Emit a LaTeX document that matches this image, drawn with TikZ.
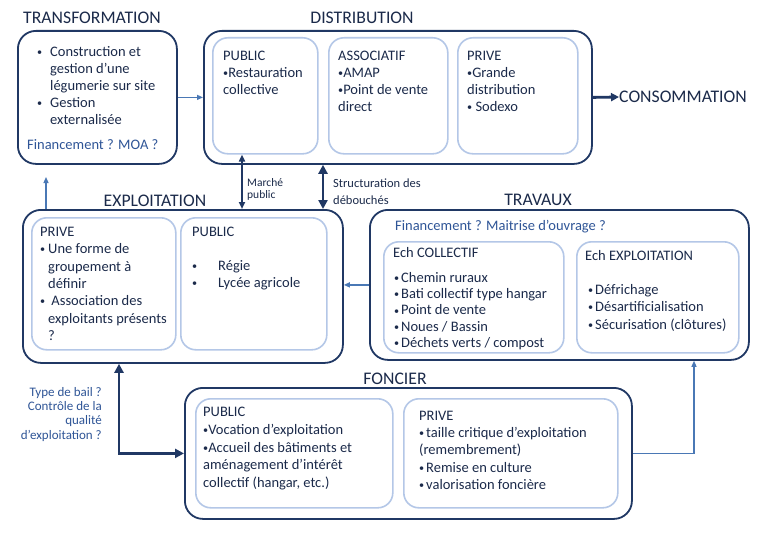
\documentclass[tikz,border=0pt]{standalone}
\usepackage{fontspec}
\setmainfont{Carlito}
\usepackage{graphicx}
\usepackage{tikz}
\usetikzlibrary{arrows.meta}

\definecolor{navy}{HTML}{203864}
\definecolor{textnavy}{HTML}{1B2A4A}
\definecolor{midblue}{HTML}{2F5597}
\definecolor{lightblue}{HTML}{B4C7E7}
\definecolor{arrowblue}{HTML}{4A78B5}

\newcommand{\bu}{\raisebox{0.12ex}{\scalebox{0.7}{\textbullet}}}
\newcommand{\bulit}[1][8pt]{\makebox[#1][l]{\bu}}
\newcommand{\bulgap}[1][8pt]{\hspace*{#1}}

\begin{document}
\begin{tikzpicture}[x=1pt, y=-1pt,
        outerbox/.style = {draw=navy, line width=1.8pt, rounded corners=18pt, anchor=north west, inner sep=0pt},
        innerbox/.style = {draw=lightblue, line width=1.6pt, rounded corners=15pt, anchor=north west, inner sep=0pt},
        heading/.style = {font=\fontsize{17.7}{20}\selectfont, text=textnavy, inner sep=0pt},
        body/.style = {font=\fontsize{14.5}{17}\selectfont, text=textnavy, align=left, anchor=north west, inner sep=0pt},
        note/.style = {font=\fontsize{14.5}{17}\selectfont, text=midblue, anchor=west, inner sep=0pt},
        linkarrow/.style = {draw=arrowblue, line width=1.2pt, -{Triangle[length=6pt, width=5pt]}},
        flowarrow/.style = {draw=navy, line width=2.8pt, -{Triangle[length=8pt, width=8pt]}},
        pairarrow/.style = {draw=navy, line width=1.8pt, {Triangle[length=7pt, width=6pt]}-{Triangle[length=7pt, width=6pt]}},
        boldarrow/.style = {draw=navy, line width=2.8pt, {Triangle[length=9pt, width=9pt]}-{Triangle[length=9pt, width=9pt]}}]
        \path[fill=white] (0,0) rectangle (768,535);
        \useasboundingbox (0,0) rectangle (768,535);

        % transformation
        \node[heading] (ttitle) at (92,18) {TRANSFORMATION};
        \node[outerbox, minimum width=159pt, minimum height=133pt] (transf) at (17,30) {};
        \node[body] (tlist) at (37,46) {\bulit[13pt]Construction et\\ \bulgap[13pt]gestion d’une\\ \bulgap[13pt]légumerie sur site\\ \bulit[13pt]Gestion\\ \bulgap[13pt]externalisée};
        \node[note] (tfin) at (27,145) {Financement ? MOA ?};

        % distribution
        \node[heading] (dtitle) at (362,18) {DISTRIBUTION};
        \node[outerbox, minimum width=388pt, minimum height=133pt] (distr) at (203,30) {};
        \node[innerbox, minimum width=105pt, minimum height=116pt] (dpub) at (212,37) {};
        \node[innerbox, minimum width=119pt, minimum height=116pt] (dasso) at (328,37) {};
        \node[innerbox, minimum width=120pt, minimum height=116pt] (dpriv) at (457,37) {};
        \node[body] (dpubtxt) at (223,51) {PUBLIC\\\bu Restauration\\collective};
        \node[body] (dassotxt) at (338,51) {ASSOCIATIF\\\bu AMAP\\\bu Point de vente\\direct};
        \node[body] (dprivtxt) at (467,51) {PRIVE\\\bu Grande\\distribution\\\bu\ Sodexo};
        \node[heading, anchor=west] (cons) at (619,97) {CONSOMMATION};

        % exploitation
        \node[heading] (etitle) at (155,201) {EXPLOITATION};
        \node[outerbox, minimum width=320pt, minimum height=153pt] (expl) at (22,209) {};
        \node[innerbox, minimum width=144pt, minimum height=132pt] (epriv) at (31,217) {};
        \node[innerbox, minimum width=146pt, minimum height=132pt] (epub) at (180,217) {};
        \node[body, font=\fontsize{14.5}{17.3}\selectfont] (eprivtxt) at (40,227) {PRIVE\\ \bulit Une forme de\\ \bulgap groupement à\\ \bulgap définir\\ \bulit\ Association des\\ \bulgap exploitants présents\\ \bulgap ?};
        \node[body] (epubtxt) at (192,227) {PUBLIC\\[17pt] \bulit[26pt]Régie\\ \bulit[26pt]Lycée agricole};

        % travaux
        \node[heading] (vtitle) at (538,200) {TRAVAUX};
        \node[outerbox, minimum width=379pt, minimum height=150pt] (trav) at (369,209) {};
        \node[note] (vfin) at (395,227) {Financement ? Maitrise d’ouvrage ?};
        \node[innerbox, minimum width=180pt, minimum height=111pt] (vcoll) at (383,241) {};
        \node[innerbox, minimum width=162pt, minimum height=111pt] (vexpl) at (576,241) {};
        \node[body] (vcolltitle) at (393,247) {Ech COLLECTIF};
        \node[body, font=\fontsize{14.5}{16.3}\selectfont] (vcolltxt) at (394,272) {\bulit[7pt]Chemin ruraux\\ \bulit[7pt]Bati collectif type hangar\\ \bulit[7pt]Point de vente\\ \bulit[7pt]Noues / Bassin\\ \bulit[7pt]Déchets verts / compost};
        \node[body] (vexpltitle) at (585,250) {Ech EXPLOITATION};
        \node[body, font=\fontsize{14.5}{17.5}\selectfont] (vexpltxt) at (588,284) {\bulit[7pt]Défrichage\\ \bulit[7pt]Désartificialisation\\ \bulit[7pt]Sécurisation (clôtures)};

        % foncier
        \node[heading] (ftitle) at (395,379) {FONCIER};
        \node[outerbox, minimum width=447pt, minimum height=131pt] (fonc) at (184,387) {};
        \node[innerbox, minimum width=197pt, minimum height=109pt] (fpub) at (195,398) {};
        \node[innerbox, minimum width=214pt, minimum height=109pt] (fpriv) at (403,398) {};
        \node[body, font=\fontsize{14.5}{17.7}\selectfont] (fpubtxt) at (203,407) {PUBLIC\\\bu Vocation d’exploitation\\\bu Accueil des bâtiments et\\aménagement d’intérêt\\collectif (hangar, etc.)};
        \node[body, font=\fontsize{14.5}{17.2}\selectfont] (fprivtxt) at (419,411) {PRIVE\\ \bulit[7pt]taille critique d’exploitation\\(remembrement)\\ \bulit[7pt]Remise en culture\\ \bulit[7pt]valorisation foncière};

        % labels on the links
        \node[body, font=\fontsize{11.5}{12.5}\selectfont] (mplabel) at (247,178) {Marché\\public};
        \node[body, font=\fontsize{12.5}{17}\selectfont] (sdlabel) at (333,179) {Structuration des\\débouchés};
        \node[body, text=midblue, align=right, anchor=north east, font=\fontsize{13}{14.3}\selectfont] (baillabel) at (102,387) {Type de bail ?\\Contrôle de la\\qualité\\d’exploitation ?};

        % links
        \coordinate (tup) at (46,177);
        \coordinate (mp) at (242,0);
        \coordinate (sd) at (323,0);
        \coordinate (bl) at (119,0);
        \coordinate (ft) at (694,0);
        \draw[linkarrow] (transf.east) -- (distr.west);
        \draw[flowarrow] (distr.east) -- (cons.west);
        \draw[linkarrow] (expl.north -| tup) -- (tup);
        \draw[pairarrow] (dpub.south -| mp) -- (expl.north -| mp);
        \draw[boldarrow] (distr.south -| sd) -- (expl.north -| sd);
        \draw[linkarrow] (trav.west) -- (trav.west -| expl.east);
        \draw[boldarrow] (expl.south -| bl) |- (fonc.west);
        \draw[linkarrow] (fonc.east) -| (trav.south -| ft);
\end{tikzpicture}
\end{document}
